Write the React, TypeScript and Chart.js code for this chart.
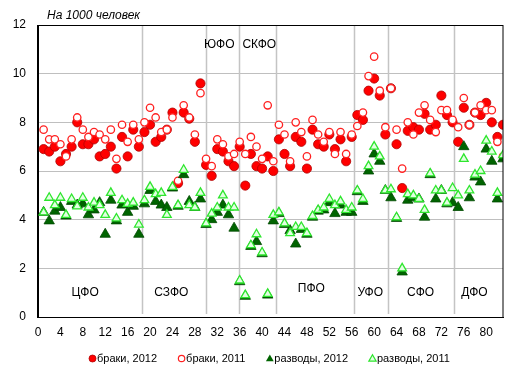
import React, { useEffect, useRef } from "react";
import { Chart, registerables } from "chart.js";

Chart.register(...registerables);

// Region numbers (83 subjects of the Russian Federation)
const regions = [
  1, 2, 3, 4, 5, 6, 7, 8, 9, 10, 11, 12, 13, 14, 15, 16, 17, 18, 19, 20,
  21, 22, 23, 24, 25, 26, 27, 28, 29, 30, 31, 32, 33, 34, 35, 36, 37, 38, 39, 40,
  41, 42, 43, 44, 45, 46, 47, 48, 49, 50, 51, 52, 53, 54, 55, 56, 57, 58, 59, 60,
  61, 62, 63, 64, 65, 66, 67, 68, 69, 70, 71, 72, 73, 74, 75, 76, 77, 78, 79, 80,
  81, 82, 83,
];

const marriages2012 = [
  6.9, 6.8, 7.0, 6.4, 6.7, 7.0, 8.0, 7.1, 7.1, 7.3, 6.6, 6.7, 7.0, 6.1, 7.4, 6.6, 7.7, 7.0, 7.6, 7.9,
  7.2, 7.4, 7.7, 8.4, 5.5, 8.4, 8.15, 7.2, 9.6, 6.25, 5.8, 6.9, 6.8, 6.4, 6.2, 7.0, 5.4, 6.7, 6.2, 6.1,
  6.6, 6.0, 7.3, 6.7, 6.2, 7.4, 7.2, 6.1, 7.7, 7.1, 7.0, 7.5, 6.9, 7.3, 6.4, 7.4, 8.3, 8.1, 9.3, 9.8,
  9.1, 7.5, 9.4, 7.1, 5.3, 7.65, 7.8, 7.7, 8.35, 7.7, 7.9, 9.1, 8.3, 8.0, 7.2, 8.6, 7.9, 8.4, 8.3, 8.8,
  8.0, 7.4, 7.9,
];

const marriages2011 = [
  7.7, 7.3, 7.3, 7.1, 6.6, 7.3, 8.2, 7.7, 7.4, 7.6, 7.5, 7.3, 7.7, 6.5, 7.9, 7.2, 7.9, 7.3, 8.0, 8.6,
  8.2, 7.6, 7.7, 8.2, 5.6, 8.7, 8.2, 7.5, 9.2, 6.5, 6.2, 7.3, 7.1, 6.6, 6.7, 7.2, 6.7, 7.4, 7.0, 6.5,
  8.7, 6.4, 7.9, 7.5, 6.4, 8.0, 7.6, 6.6, 8.1, 7.5, 7.2, 7.6, 6.7, 7.6, 6.7, 7.5, 7.85, 8.4, 9.9, 10.7,
  9.3, 7.8, 9.4, 7.7, 6.1, 8.0, 7.5, 8.4, 8.7, 8.1, 7.6, 8.5, 8.5, 8.1, 7.8, 9.0, 7.9, 8.4, 8.7, 8.5,
  8.5, 7.2, 6.6,
];

const divorces2012 = [
  4.3, 3.95, 4.35, 4.5, 4.15, 4.75, 4.6, 4.65, 4.2, 4.4, 4.7, 3.4, 4.8, 3.95, 4.6, 4.3, 4.55, 3.4, 4.65, 5.2,
  4.75, 4.6, 4.5, 5.3, 4.55, 5.85, 4.75, 4.5, 4.85, 3.8, 4.0, 4.3, 4.6, 4.2, 3.65, 1.45, 0.85, 2.9, 3.1, 2.6,
  0.9, 3.95, 4.25, 3.8, 3.55, 3.0, 3.6, 3.4, 4.1, 4.35, 4.4, 4.7, 4.25, 4.6, 4.3, 4.3, 5.15, 4.75, 6.0, 6.7,
  6.4, 5.2, 4.9, 4.05, 1.85, 4.8, 4.9, 4.85, 4.1, 5.85, 4.85, 5.2, 4.65, 4.7, 4.5, 7.0, 4.9, 5.75, 5.55, 6.9,
  6.4, 4.85, 6.5,
];

const divorces2011 = [
  4.3, 4.9, 4.6, 4.9, 4.2, 4.85, 4.55, 4.9, 4.5, 4.7, 4.6, 4.2, 5.1, 4.05, 4.8, 4.65, 4.7, 3.8, 4.8, 5.35,
  5.05, 5.1, 4.2, 5.35, 4.6, 6.05, 4.6, 4.5, 5.1, 3.85, 4.25, 4.5, 5.0, 4.5, 4.5, 1.5, 0.9, 2.95, 3.4, 2.65,
  0.95, 4.2, 4.3, 3.85, 3.45, 3.7, 3.7, 3.45, 4.15, 4.4, 4.5, 4.85, 4.6, 4.75, 4.4, 4.5, 5.2, 4.85, 6.2, 7.0,
  6.6, 5.2, 5.25, 4.1, 2.0, 5.05, 5.0, 4.85, 4.4, 5.9, 5.2, 5.2, 4.7, 5.3, 5.0, 6.5, 5.2, 5.85, 6.0, 7.25,
  6.8, 5.1, 6.65,
];

const seriesNames = ["браки, 2012", "браки, 2011", "разводы, 2012", "разводы, 2011"];
const titleText = "На 1000 человек";

// Boundaries between federal districts (in region-number units)
const districtBounds = [18.6, 30.0, 35.9, 42.5, 56.4, 62.4, 74.2];
const districtNames = ["ЦФО", "СЗФО", "ЮФО", "СКФО", "ПФО", "УФО", "СФО", "ДФО"];
const districtLabelX = [8.4, 23.8, 32.35, 39.5, 48.8, 59.3, 68.3, 77.9];
const districtLabelY = [1.0, 1.0, 11.2, 11.2, 1.17, 1.0, 1.0, 1.0];

const FONT = "'Liberation Sans', Arial, sans-serif";

const toPoints = (vals: number[]) => vals.map((v, i) => ({ x: regions[i], y: v }));

const STYLE = {
  m12: { fill: "#FF0000", stroke: "#B00000" },
  m11: { fill: "#FFFFFF", stroke: "#FF2020" },
  d12: { fill: "#006400", stroke: "#004A00" },
  d11: { fill: "#E2FFE2", stroke: "#2EE62E" },
};

function drawTri(ctx: CanvasRenderingContext2D, x: number, y: number, r: number) {
  ctx.beginPath();
  ctx.moveTo(x, y - r);
  ctx.lineTo(x + r * 0.866, y + r * 0.5);
  ctx.lineTo(x - r * 0.866, y + r * 0.5);
  ctx.closePath();
}

const decorPlugin = {
  id: "decor",
  beforeDatasetsDraw(chart: any) {
    const { ctx, chartArea, scales } = chart;
    ctx.save();
    ctx.strokeStyle = "#C4C4C4";
    ctx.lineWidth = 1.5;
    districtBounds.forEach((b) => {
      const px = Math.round(scales.x.getPixelForValue(b)) + 0.5;
      ctx.beginPath();
      ctx.moveTo(px, chartArea.top);
      ctx.lineTo(px, chartArea.bottom - 3);
      ctx.stroke();
    });
    ctx.restore();
  },
  afterDraw(chart: any) {
    const { ctx, chartArea, scales } = chart;
    ctx.save();
    // frame
    ctx.strokeStyle = "#000";
    ctx.lineWidth = 1;
    ctx.strokeRect(
      Math.round(chartArea.left) - 0.5,
      Math.round(chartArea.top) + 0.5,
      Math.round(chartArea.right - chartArea.left) + 0.5,
      Math.round(chartArea.bottom - chartArea.top)
    );
    // title
    ctx.fillStyle = "#000";
    ctx.font = `italic 12px ${FONT}`;
    ctx.textAlign = "left";
    ctx.textBaseline = "middle";
    ctx.fillText(titleText, 47, 16);
    // district labels
    ctx.font = `12px ${FONT}`;
    ctx.textAlign = "center";
    districtNames.forEach((n, i) => {
      ctx.fillText(n, scales.x.getPixelForValue(districtLabelX[i]), scales.y.getPixelForValue(districtLabelY[i]));
    });
    // legend
    ctx.font = `11px ${FONT}`;
    ctx.textAlign = "left";
    let x = 89;
    const ly = 358.5;
    seriesNames.forEach((name, i) => {
      const cx = x + 3.5;
      if (i === 0) {
        ctx.beginPath();
        ctx.arc(cx, ly, 3.5, 0, Math.PI * 2);
        ctx.fillStyle = STYLE.m12.fill;
        ctx.fill();
        ctx.strokeStyle = STYLE.m12.stroke;
        ctx.lineWidth = 0.8;
        ctx.stroke();
      } else if (i === 1) {
        ctx.beginPath();
        ctx.arc(cx, ly, 3.2, 0, Math.PI * 2);
        ctx.fillStyle = STYLE.m11.fill;
        ctx.fill();
        ctx.strokeStyle = STYLE.m11.stroke;
        ctx.lineWidth = 1.2;
        ctx.stroke();
      } else if (i === 2) {
        drawTri(ctx, cx, ly + 0.5, 4.5);
        ctx.fillStyle = STYLE.d12.fill;
        ctx.fill();
      } else {
        drawTri(ctx, cx, ly + 0.5, 4.2);
        ctx.fillStyle = STYLE.d11.fill;
        ctx.fill();
        ctx.strokeStyle = STYLE.d11.stroke;
        ctx.lineWidth = 1.2;
        ctx.stroke();
      }
      ctx.fillStyle = "#000";
      ctx.fillText(name, x + 8, ly);
      x = x + 8 + ctx.measureText(name).width + 21;
    });
    ctx.restore();
  },
};

export default function App() {
  const canvasRef = useRef<HTMLCanvasElement | null>(null);

  useEffect(() => {
    if (!canvasRef.current) return;
    const chart = new Chart(canvasRef.current, {
      type: "scatter",
      data: {
        datasets: [
          {
            label: seriesNames[0],
            data: toPoints(marriages2012),
            pointStyle: "circle",
            pointRadius: 4.6,
            backgroundColor: STYLE.m12.fill,
            borderColor: STYLE.m12.stroke,
            borderWidth: 0.8,
            order: 4,
          },
          {
            label: seriesNames[1],
            data: toPoints(marriages2011),
            pointStyle: "circle",
            pointRadius: 3.7,
            backgroundColor: STYLE.m11.fill,
            borderColor: STYLE.m11.stroke,
            borderWidth: 1.3,
            order: 3,
          },
          {
            label: seriesNames[2],
            data: toPoints(divorces2012),
            pointStyle: "triangle",
            pointRadius: 6,
            backgroundColor: STYLE.d12.fill,
            borderColor: STYLE.d12.stroke,
            borderWidth: 0.8,
            order: 2,
          },
          {
            label: seriesNames[3],
            data: toPoints(divorces2011),
            pointStyle: "triangle",
            pointRadius: 5,
            backgroundColor: STYLE.d11.fill,
            borderColor: STYLE.d11.stroke,
            borderWidth: 1.3,
            order: 1,
          },
        ],
      },
      options: {
        animation: false,
        responsive: false,
        devicePixelRatio: 1,
        layout: { padding: { left: 0, right: 18, top: 25, bottom: 30 } },
        plugins: {
          legend: { display: false },
          tooltip: { enabled: false },
        },
        scales: {
          x: {
            type: "linear",
            min: 0,
            max: 83,
            afterFit: (s: any) => {
              s.height = 30;
            },
            grid: { display: false, drawTicks: false },
            border: { display: true, color: "#000", width: 1 },
            ticks: {
              stepSize: 4,
              includeBounds: false,
              autoSkip: false,
              maxRotation: 0,
              padding: 8,
              color: "#000",
              font: { family: FONT, size: 12 },
            },
          },
          y: {
            type: "linear",
            min: 0,
            max: 12,
            afterFit: (s: any) => {
              s.width = 38;
            },
            grid: { color: "#BFBFBF", drawTicks: false },
            border: { display: true, color: "#000", width: 1 },
            ticks: {
              stepSize: 2,
              padding: 12,
              color: "#000",
              font: { family: FONT, size: 12 },
            },
          },
        },
      },
      plugins: [decorPlugin],
    } as any);
    return () => chart.destroy();
  }, []);

  return (
    <div style={{ position: "fixed", left: 0, top: 0, width: 521, height: 377, background: "#fff" }}>
      <canvas ref={canvasRef} width={521} height={377} />
    </div>
  );
}
